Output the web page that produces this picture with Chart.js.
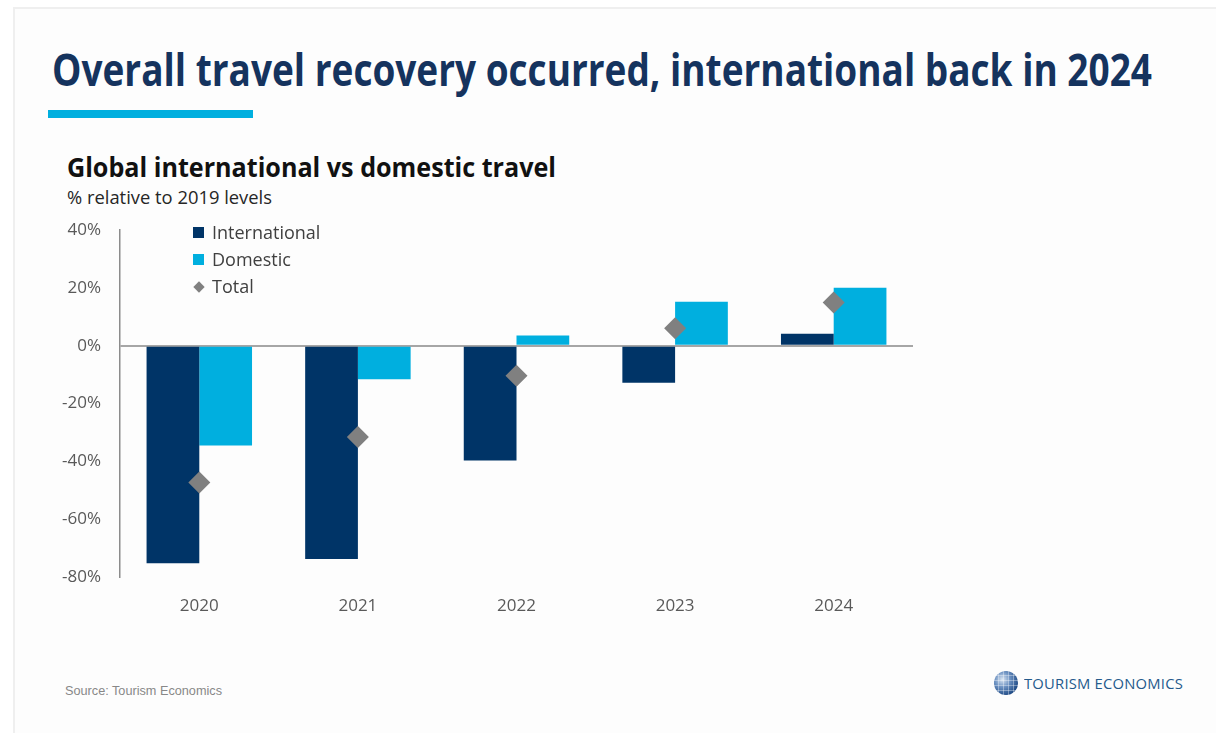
<!DOCTYPE html>
<html>
<head>
<meta charset="utf-8">
<script src="https://cdn.jsdelivr.net/npm/chart.js@4.4.1/dist/chart.umd.min.js"></script>
<style>
  html, body { margin: 0; padding: 0; background: #ffffff; }
  body { width: 1216px; height: 733px; position: relative; overflow: hidden; font-family: "Open Sans", sans-serif; }
  #frame { position: absolute; left: 13px; top: 7px; right: 0; bottom: 0; border-left: 2px solid #efefef; border-top: 2px solid #efefef; background: #fdfdfd; }
  .fit { position: absolute; white-space: nowrap; transform-origin: 0 0; }
  #title { left: 52px; top: 39px; font-size: 44px; font-weight: 700; color: #15335e; }
  #rule { position: absolute; left: 48px; top: 110px; width: 205px; height: 8px; background: #00afdf; }
  #subtitle { left: 67px; top: 149px; font-size: 26px; font-weight: 700; color: #111111; }
  #unit { left: 67px; top: 185px; font-size: 17.5px; color: #262626; }
  #chartBox { position: absolute; left: 30px; top: 201px; width: 900px; height: 429px; }
  #legend { position: absolute; left: 193px; top: 219px; font-size: 18px; color: #404040; }
  .item { height: 27px; line-height: 27px; position: relative; padding-left: 19px; }
  .swatch { position: absolute; left: 0; top: 8px; width: 11px; height: 11px; }
  .diamond { position: absolute; left: 2px; top: 10px; width: 8px; height: 8px; transform: rotate(45deg); }
  #source { position: absolute; left: 65px; top: 684px; font-family: "Liberation Sans", Arial, sans-serif; font-size: 12.7px; color: #888888; }
  #globe { position: absolute; left: 994px; top: 671px; width: 24px; height: 24px; border-radius: 50%;
    background:
      repeating-linear-gradient(90deg, rgba(255,255,255,0) 0 4px, rgba(255,255,255,0.35) 4px 5px),
      repeating-linear-gradient(0deg, rgba(255,255,255,0) 0 4px, rgba(255,255,255,0.35) 4px 5px),
      radial-gradient(circle at 35% 35%, #dbe6f2 0%, #6d92c2 35%, #1f4a85 75%, #14335e 100%); }
  #logo { left: 1024px; top: 674px; font-size: 14px; color: #245a8c; letter-spacing: 0.2px; }
</style>
</head>
<body>
<div id="frame"></div>
<div id="title" class="fit" data-w="1100">Overall travel recovery occurred, international back in 2024</div>
<div id="rule"></div>
<div id="subtitle" class="fit" data-w="489">Global international vs domestic travel</div>
<div id="unit" class="fit" data-w="205">% relative to 2019 levels</div>
<div id="chartBox"><canvas id="chart"></canvas></div>
<div id="legend"></div>
<div id="source">Source: Tourism Economics</div>
<div id="globe"></div>
<div id="logo" class="fit" data-w="159">TOURISM ECONOMICS</div>
<script>
const years = ["2020", "2021", "2022", "2023", "2024"];
const international = [-75.2, -73.8, -39.7, -12.8, 4.2];
const domestic = [-34.5, -11.6, 3.6, 15.2, 20.1];
const total = [-47.3, -31.6, -10.4, 6.1, 15.0];
const yTicks = [40, 20, 0, -20, -40, -60, -80];

const NAVY = "#003467";
const CYAN = "#00afdf";
const GREY = "#808080";

// squeeze the Calibri-like headings into their measured widths
document.querySelectorAll(".fit").forEach((el) => {
    const target = Number(el.dataset.w);
    const w = el.getBoundingClientRect().width;
    if (w > 0) el.style.transform = `scaleX(${target / w})`;
});

const tickFont = { family: "'Open Sans', sans-serif", size: 17 };

const chart = new Chart(document.getElementById("chart"), {
    type: "bar",
    data: {
        labels: years,
        datasets: [
            {
                label: "International",
                data: international,
                backgroundColor: NAVY,
                borderWidth: 0,
                order: 2,
            },
            {
                label: "Domestic",
                data: domestic,
                backgroundColor: CYAN,
                borderWidth: 0,
                order: 2,
            },
            {
                type: "line",
                label: "Total",
                data: total,
                showLine: false,
                pointStyle: "rectRot",
                pointRadius: 11,
                pointHoverRadius: 11,
                pointBackgroundColor: GREY,
                pointBorderWidth: 0,
                order: 1,
            },
        ],
    },
    options: {
        responsive: true,
        maintainAspectRatio: false,
        animation: false,
        layout: { padding: { top: 0, right: 17, bottom: 0, left: 0 } },
        datasets: {
            bar: { categoryPercentage: 0.665, barPercentage: 1.0 },
        },
        scales: {
            x: {
                grid: { display: false, drawTicks: false },
                border: { display: false },
                ticks: { color: "#595959", font: tickFont, padding: 19 },
                afterFit: (scale) => { scale.height = 53; },
            },
            y: {
                min: -80,
                max: 40,
                afterBuildTicks: (scale) => {
                    scale.ticks = yTicks.map((v) => ({ value: v }));
                },
                ticks: {
                    color: "#595959",
                    font: tickFont,
                    padding: 19,
                    callback: (v) => v + "%",
                },
                grid: {
                    drawTicks: false,
                    lineWidth: 2,
                    color: (ctx) => (ctx.tick && ctx.tick.value === 0 ? "#a6a6a6" : "rgba(0,0,0,0)"),
                },
                border: { display: true, color: "#8c8c8c", width: 1.5 },
                afterFit: (scale) => { scale.width = 90; },
            },
        },
        plugins: {
            legend: { display: false },
            tooltip: { enabled: false },
        },
    },
});

// legend built from the chart's own datasets
const legend = document.getElementById("legend");
chart.data.datasets.forEach((ds) => {
    const item = document.createElement("div");
    item.className = "item";
    const mark = document.createElement("span");
    if (ds.type === "line") {
        mark.className = "diamond";
        mark.style.background = ds.pointBackgroundColor;
    } else {
        mark.className = "swatch";
        mark.style.background = ds.backgroundColor;
    }
    item.appendChild(mark);
    item.appendChild(document.createTextNode(ds.label));
    legend.appendChild(item);
});
</script>
</body>
</html>
